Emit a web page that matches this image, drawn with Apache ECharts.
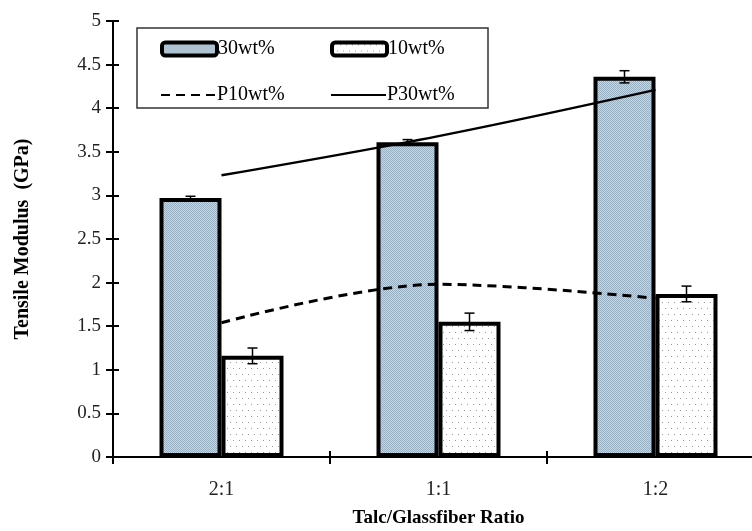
<!DOCTYPE html>
<html>
<head>
<meta charset="utf-8">
<script src="https://cdn.jsdelivr.net/npm/echarts@6/dist/echarts.min.js"></script>
<style>
  html, body { margin: 0; padding: 0; background: #fff; overflow: hidden; }
  #chart { width: 752px; height: 531px; }
</style>
</head>
<body>
<div id="chart"></div>
<script>
// Talc/glassfiber ratio categories and tensile modulus values (GPa)
const categories = ['2:1', '1:1', '1:2'];
const modulus30 = [2.97, 3.61, 4.36];
const error30 = [0.02, 0.03, 0.07];
const modulus10 = [1.16, 1.55, 1.87];
const error10 = [0.09, 0.10, 0.09];
const predicted10 = [1.54, 1.98, 1.82];
const predicted30 = [3.23, 3.68, 4.21];
const yMin = 0, yMax = 5, yStep = 0.5;

const SERIF = '"Liberation Serif", "DejaVu Serif", serif';

// Stippled blue fill for the 30wt% bars
function stipplePattern() {
  const c = document.createElement('canvas');
  c.width = 2; c.height = 2;
  const g = c.getContext('2d');
  g.fillStyle = '#c8d7e3'; g.fillRect(0, 0, 2, 2);
  g.fillStyle = '#97aec1'; g.fillRect(0, 0, 1, 1); g.fillRect(1, 1, 1, 1);
  return { image: c, repeat: 'repeat' };
}
// Sparse dotted white fill for the 10wt% bars
function dotPattern() {
  const c = document.createElement('canvas');
  c.width = 12; c.height = 12;
  const g = c.getContext('2d');
  g.fillStyle = '#ffffff'; g.fillRect(0, 0, 12, 12);
  g.fillStyle = '#9a9a9a';
  g.fillRect(2, 2, 1, 1); g.fillRect(8, 2, 1, 1);
  g.fillRect(5, 8, 1, 1); g.fillRect(11, 8, 1, 1);
  return { image: c, repeat: 'repeat' };
}

const BAR_W = 62;

function errorBarSeries(values, errors, shift) {
  return {
    type: 'custom',
    z: 5,
    silent: true,
    data: values.map((v, i) => [i, v, errors[i]]),
    encode: { x: 0, y: 1 },
    renderItem: function (params, api) {
      const i = api.value(0), v = api.value(1), e = api.value(2);
      const hi = api.coord([i, v + e]);
      const lo = api.coord([i, v - e]);
      const x = hi[0] + shift;
      const cap = 5;
      const style = { stroke: '#000', lineWidth: 1.5 };
      return {
        type: 'group',
        children: [
          { type: 'line', shape: { x1: x, y1: hi[1], x2: x, y2: lo[1] }, style: style },
          { type: 'line', shape: { x1: x - cap, y1: hi[1], x2: x + cap, y2: hi[1] }, style: style },
          { type: 'line', shape: { x1: x - cap, y1: lo[1], x2: x + cap, y2: lo[1] }, style: style }
        ]
      };
    }
  };
}

function legendItem(name, left, top, extra) {
  return Object.assign({
    data: [name],
    left: left, top: top,
    itemWidth: 55, itemHeight: 13,
    padding: 0,
    selectedMode: false,
    textStyle: { fontFamily: SERIF, fontSize: 20, color: '#000', padding: [0, 0, 0, -4] }
  }, extra || {});
}

const barLegendStyle = { itemStyle: { borderColor: '#000', borderWidth: 4 } };
const lineLegendStyle = { itemStyle: { opacity: 0 } };

const chart = echarts.init(document.getElementById('chart'), null, { renderer: 'canvas' });

chart.setOption({
  animation: false,
  backgroundColor: '#fff',
  grid: {
    left: 113, top: 21, width: 651, height: 436,
    containLabel: false,
    outerBoundsMode: 'none'
  },
  xAxis: [
    {
      type: 'category',
      data: categories,
      position: 'bottom',
      axisLine: { lineStyle: { color: '#000', width: 2 } },
      axisTick: { show: true, length: 7, lineStyle: { color: '#000', width: 2 } },
      axisLabel: { fontFamily: SERIF, fontSize: 20, color: '#222', margin: 23 },
      name: 'Talc/Glassfiber Ratio',
      nameLocation: 'middle',
      nameGap: 52,
      nameTextStyle: { fontFamily: SERIF, fontSize: 19, fontWeight: 'bold', color: '#000' }
    },
    {
      type: 'category',
      data: categories,
      position: 'bottom',
      axisLine: { show: false },
      axisTick: { show: true, inside: true, length: 6, lineStyle: { color: '#000', width: 2 } },
      axisLabel: { show: false }
    }
  ],
  yAxis: [
    {
      type: 'value',
      min: yMin, max: yMax, interval: yStep,
      position: 'left',
      splitLine: { show: false },
      axisLine: { show: true, lineStyle: { color: '#000', width: 2 } },
      axisTick: { show: true, length: 7, lineStyle: { color: '#000', width: 2 } },
      axisLabel: { fontFamily: SERIF, fontSize: 19, color: '#222', margin: 12 },
      name: 'Tensile Modulus  (GPa)',
      nameLocation: 'middle',
      nameGap: 80,
      nameTextStyle: { fontFamily: SERIF, fontSize: 20, fontWeight: 'bold', color: '#000' }
    },
    {
      type: 'value',
      min: yMin, max: yMax, interval: yStep,
      position: 'left',
      splitLine: { show: false },
      axisLine: { show: false },
      axisTick: { show: true, inside: true, length: 6, lineStyle: { color: '#000', width: 2 } },
      axisLabel: { show: false }
    }
  ],
  legend: [
    legendItem('30wt%', 160, 39, barLegendStyle),
    legendItem('10wt%', 330, 39, barLegendStyle),
    legendItem('P10wt%', 160, 85, lineLegendStyle),
    legendItem('P30wt%', 330, 85, lineLegendStyle)
  ],
  graphic: [
    {
      type: 'rect',
      shape: { x: 137, y: 28, width: 351, height: 80 },
      style: { fill: 'none', stroke: '#333', lineWidth: 1.5 },
      z: 1
    }
  ],
  series: [
    {
      name: '30wt%',
      type: 'bar',
      data: modulus30,
      barWidth: BAR_W,
      barGap: '0%',
      itemStyle: { color: stipplePattern(), borderColor: '#000', borderWidth: 4 },
      z: 2
    },
    {
      name: '10wt%',
      type: 'bar',
      data: modulus10,
      barWidth: BAR_W,
      barGap: '0%',
      itemStyle: { color: dotPattern(), borderColor: '#000', borderWidth: 4 },
      z: 2
    },
    errorBarSeries(modulus30, error30, -BAR_W / 2),
    errorBarSeries(modulus10, error10, BAR_W / 2),
    {
      name: 'P10wt%',
      type: 'line',
      data: predicted10,
      smooth: 0.35,
      symbol: 'none',
      lineStyle: { color: '#000', width: 3, type: [9, 6] },
      itemStyle: { color: '#000' },
      z: 6
    },
    {
      name: 'P30wt%',
      type: 'line',
      data: predicted30,
      smooth: 0.35,
      symbol: 'none',
      lineStyle: { color: '#000', width: 2.5 },
      itemStyle: { color: '#000' },
      z: 6
    }
  ]
});
</script>
</body>
</html>
